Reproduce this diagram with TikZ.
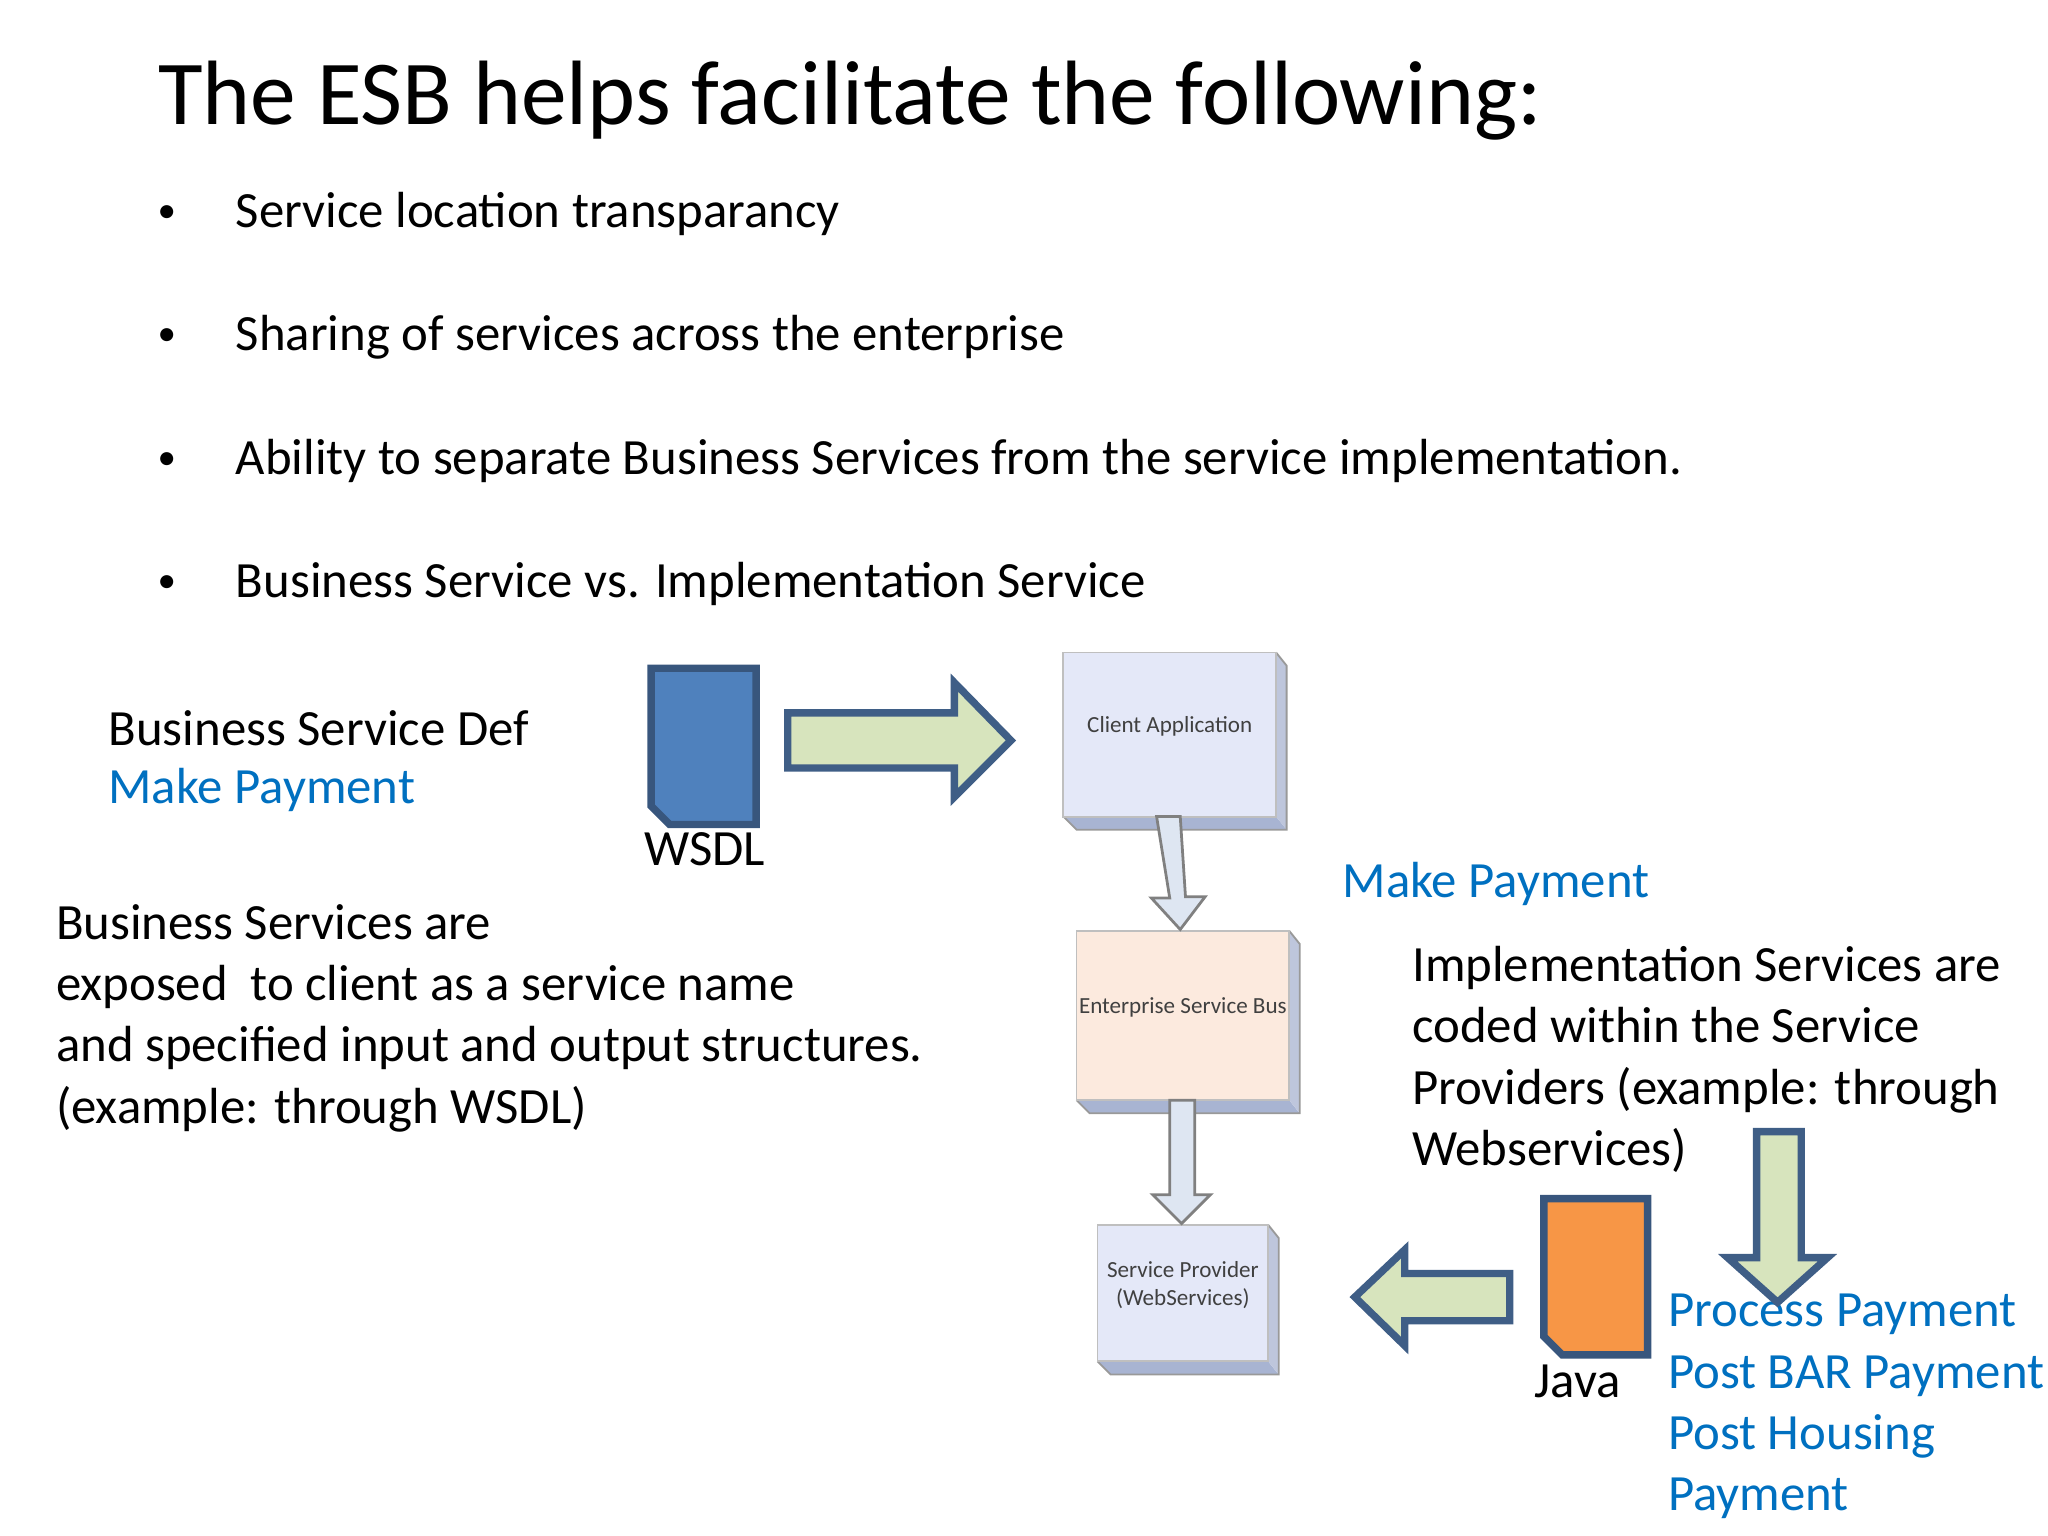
\documentclass[tikz,border=0pt]{standalone}
\usepackage{fontspec}
\setmainfont{Carlito}
\usepackage{tikz}
\definecolor{lb}{RGB}{0,112,192}
\definecolor{gfill}{RGB}{215,228,189}
\definecolor{gdraw}{RGB}{63,94,134}
\definecolor{afill}{RGB}{222,230,242}
\definecolor{ddraw}{RGB}{56,86,125}
\definecolor{dblue}{RGB}{79,129,189}
\definecolor{dor}{RGB}{247,150,70}
\definecolor{boxb}{RGB}{228,232,248}
\definecolor{boxp}{RGB}{252,234,222}
\definecolor{sbot}{RGB}{168,180,210}
\definecolor{sside}{RGB}{190,198,220}
\begin{document}
\begin{tikzpicture}[x=0.01cm,y=-0.01cm,
 txt/.style={anchor=west,inner sep=0,font=\fontsize{11pt}{13.3pt}\selectfont},
 blu/.style={txt,text=lb},
 small/.style={font=\fontsize{5pt}{6pt}\selectfont,text=black!75,align=center},
 garrow/.style={fill=gfill,draw=gdraw,line width=1.6pt,line join=miter},
 barrow/.style={fill=afill,draw=black!50,line width=0.6pt},
 doc/.style={draw=ddraw,line width=1.6pt}]
\useasboundingbox (0,0) rectangle (1560,1170);
\node[anchor=west,inner sep=0,font=\fontsize{19.8pt}{24pt}\selectfont] (title) at (120,77) {The ESB helps facilitate the following:};
\foreach \y/\t [count=\i] in {163/Service location transparancy,257/Sharing of services across the enterprise,351/Ability to separate Business Services from the service implementation.,445/Business Service vs. Implementation Service}{
 \node[anchor=center,inner sep=0,font=\fontsize{8pt}{9pt}\selectfont] (b\i) at (127,\y) {\textbullet};
 \node[txt] (t\i) at (179,\y) {\t};}
\node[txt] (bsd) at (82,555) {Business Service Def};
\node[blu] (mp1) at (82,602) {Make Payment};
\node[txt] (wsdl) at (490,647) {WSDL};
\node[txt,align=left,anchor=north west] (bse) at (42,688) {Business Services are\\exposed\ \ to client as a service name\\and specified input and output structures.\\(example: through WSDL)};
\node[blu] (mp2) at (1022,673) {Make Payment};
\node[txt,align=left,anchor=north west] (ise) at (1075,720) {Implementation Services are\\coded within the Service\\Providers (example: through\\Webservices)};
\node[txt] (java) at (1168,1052) {Java};
\node[blu,align=left,anchor=north west] (pp) at (1270,985) {Process Payment\\Post BAR Payment\\Post Housing\\Payment};
% documents
\draw[doc,fill=dblue] (496,509) -- (576,509) -- (576,628) -- (510,628) -- (496,614) -- cycle;
\draw[doc,fill=dor] (1176,913) -- (1255,913) -- (1255,1032) -- (1190,1032) -- (1176,1018) -- cycle;
% green arrows
\draw[garrow] (600,543) -- (727,543) -- (727,520) -- (770,564) -- (727,607) -- (727,585) -- (600,585) -- cycle;
\draw[garrow] (1150,970) -- (1070,970) -- (1070,952) -- (1032,988) -- (1070,1025) -- (1070,1006) -- (1150,1006) -- cycle;
\draw[garrow] (1338,862) -- (1372,862) -- (1372,958) -- (1392,958) -- (1354,992) -- (1316,958) -- (1338,958) -- cycle;
% 3D boxes
\foreach \n/\a/\b/\c/\d/\col/\txt in {ca/810/497/972/622/boxb/Client Application,esb/820/709/982/838/boxp/Enterprise Service Bus,sp/836/933/966/1037/boxb/{Service Provider\\(WebServices)}}{
 \fill[sbot] (\a,\d) -- (\a+10,\d+10) -- (\c+8,\d+10) -- (\c,\d) -- cycle;
 \fill[sside] (\c,\b) -- (\c+8,\b+10) -- (\c+8,\d+10) -- (\c,\d) -- cycle;
 \draw[black!40,line width=0.4pt] (\a,\d) -- (\a+10,\d+10) -- (\c+8,\d+10) -- (\c+8,\b+10) -- (\c,\b);
 \draw[fill=\col,draw=black!25] (\a,\b) rectangle (\c,\d);
 \node[small] (\n) at ({(\a+\c)/2},{(\b+\d)/2-6}) {\txt};}
% connecting block arrows
\draw[barrow] (881,622) -- (899,622) -- (903,683) -- (918,683) -- (899,708) -- (877,684) -- (891,684) -- cycle;
\draw[barrow] (891,838) -- (910,838) -- (910,910) -- (922,910) -- (900,932) -- (878,910) -- (891,910) -- cycle;
\end{tikzpicture}
\end{document}
